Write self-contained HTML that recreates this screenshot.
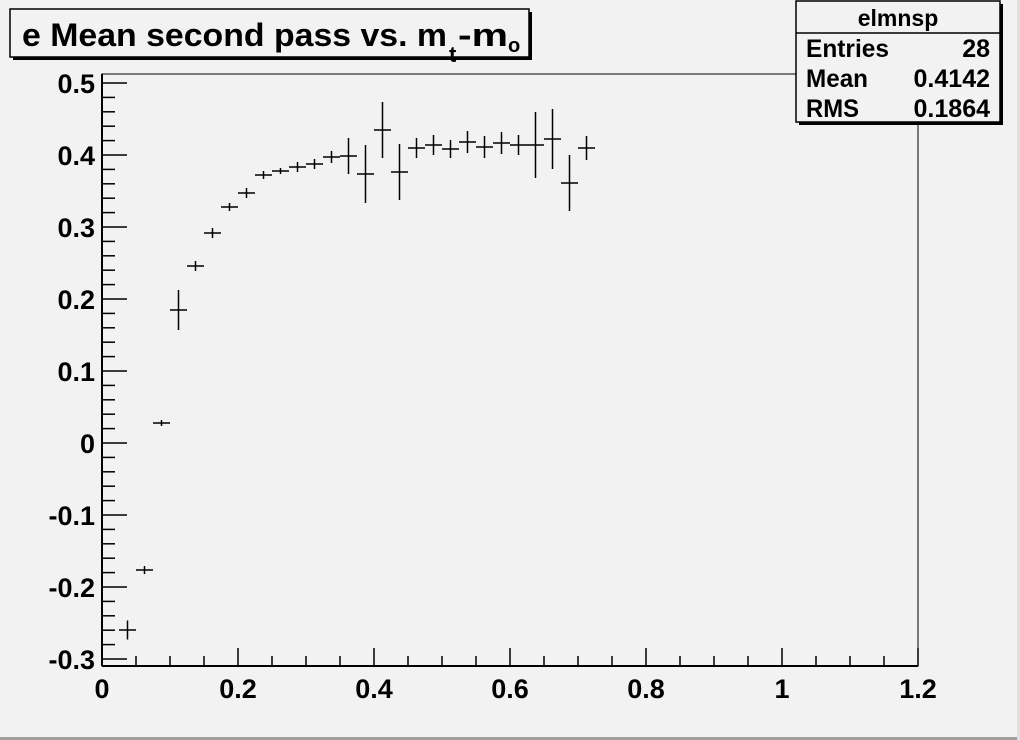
<!DOCTYPE html>
<html><head><style>
html,body{margin:0;padding:0;background:#f2f2f2;}
svg{display:block;font-family:"Liberation Sans",Arial,sans-serif;font-weight:bold;}
</style></head><body>
<svg width="1020" height="740" viewBox="0 0 1020 740" xmlns="http://www.w3.org/2000/svg">
<rect x="0" y="0" width="1020" height="740" fill="#f2f2f2"/>
<rect x="0" y="737" width="1020" height="3" fill="#a0a0a0"/>
<rect x="1017" y="0" width="3" height="740" fill="#e0e0e0"/>
<rect x="102" y="74" width="816" height="592" fill="none" stroke="#000" stroke-width="1"/>
<line x1="102" y1="666" x2="918" y2="666" stroke="#000" stroke-width="2"/>
<line x1="102" y1="74" x2="102" y2="666" stroke="#000" stroke-width="2"/>
<g id="ticks" stroke="#000" stroke-width="1.5"></g>
<g id="labels" font-size="27" fill="#000"></g>
<g id="data" stroke="#000" stroke-width="1.5"></g>
<rect x="13" y="12" width="519" height="48" fill="#000"/>
<rect x="10" y="9" width="519" height="48" fill="#f2f2f2" stroke="#000" stroke-width="1.5"/>
<text x="22" y="46" font-size="32" textLength="425" lengthAdjust="spacingAndGlyphs">e Mean second pass vs. m</text>
<text x="449" y="62" font-size="22">t</text>
<text x="458" y="46" font-size="32" textLength="50" lengthAdjust="spacingAndGlyphs">-m</text>
<text x="508" y="52" font-size="20">o</text>
<rect x="799" y="4" width="204" height="121" fill="#000"/>
<rect x="796" y="1" width="204" height="121" fill="#f2f2f2" stroke="#000" stroke-width="1.5"/>
<line x1="796" y1="33" x2="1000" y2="33" stroke="#000" stroke-width="1.5"/>
<text x="898" y="26" font-size="23" text-anchor="middle">elmnsp</text>
<text x="806" y="57" font-size="25" textLength="83" lengthAdjust="spacingAndGlyphs">Entries</text><text x="990" y="57" font-size="25" text-anchor="end">28</text>
<text x="806" y="87" font-size="25" textLength="62" lengthAdjust="spacingAndGlyphs">Mean</text><text x="990" y="87" font-size="25" text-anchor="end">0.4142</text>
<text x="806" y="117" font-size="25" textLength="53" lengthAdjust="spacingAndGlyphs">RMS</text><text x="990" y="117" font-size="25" text-anchor="end">0.1864</text>
<script>
var NS="http://www.w3.org/2000/svg";
function el(p,t,a,txt){var e=document.createElementNS(NS,t);for(var k in a)e.setAttribute(k,a[k]);if(txt!==undefined)e.textContent=txt;p.appendChild(e);}
var T=document.getElementById('ticks'),L=document.getElementById('labels'),D=document.getElementById('data');
function X(v){return 102+v*680;} function Y(v){return 443-v*720;}
for(var i=0;i<=24;i++){var v=i*0.05,x=X(v);el(T,'line',{x1:x,y1:666,x2:x,y2:666-(i%4==0?18:10)});}
['0','0.2','0.4','0.6','0.8','1','1.2'].forEach(function(s,i){el(L,'text',{x:X(i*0.2),y:698,'text-anchor':'middle'},s);});
for(var i=-15;i<=25;i++){var v=i*0.02,y=Y(v);if(y>666.5||y<74)continue;el(T,'line',{x1:102,y1:y,x2:102+(i%5==0?25:13),y2:y});}
['-0.3','-0.2','-0.1','0','0.1','0.2','0.3','0.4','0.5'].forEach(function(s,i){el(L,'text',{x:95,y:Y(-0.3+i*0.1)+10,'text-anchor':'end'},s);});
var pts=[[630,9.5],[570,4],[423,3],[310,20],[266,5],[233,5],[207,4],[193,5],[175,4],[171,3],[167,5],[164,5],[157,6],[156,18],[174,29],[130,28],[172,28],[148,10],[145,10],[149,9],[142,11],[147,11],[143,11],[145,10],[145,33],[139,30],[183,28],[148,12]];
pts.forEach(function(p,i){var x=127.5+17*i;el(D,'line',{x1:x-8.5,y1:p[0],x2:x+8.5,y2:p[0]});el(D,'line',{x1:x,y1:p[0]-p[1],x2:x,y2:p[0]+p[1]});});
</script>
</svg>
</body></html>
